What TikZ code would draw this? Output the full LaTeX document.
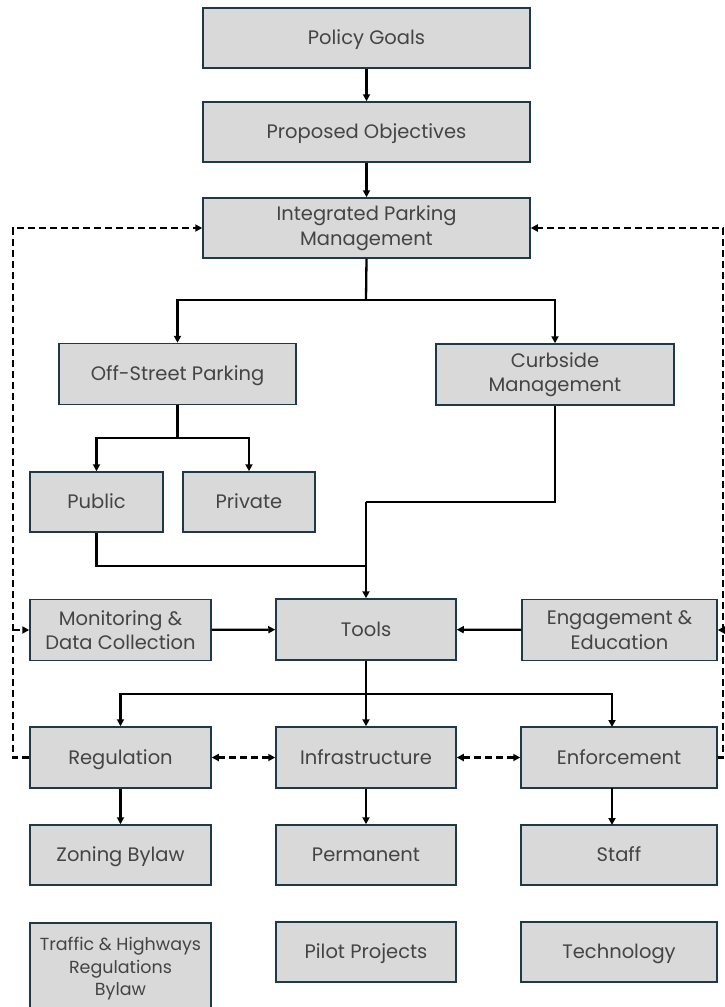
\documentclass[tikz,border=0pt]{standalone}
\usepackage{fontspec}
\setmainfont{Poppins}
\usetikzlibrary{arrows.meta}
\definecolor{boxfill}{HTML}{D9D9D9}
\definecolor{boxline}{HTML}{1E3A48}
\definecolor{txt}{HTML}{444444}
\tikzset{
  box/.style={draw=boxline, line width=1.5pt, fill=boxfill, text=txt, align=center,
    font=\fontsize{19.5}{24.5}\selectfont, inner sep=2pt, anchor=center},
  one/.style={text height=14.5pt, text depth=1pt},
  conn/.style={draw=black, line width=2.3pt, -{Triangle[length=7pt,width=7pt]}},
  plain/.style={draw=black, line width=2.3pt},
  dconn/.style={draw=black, line width=2.6pt, dash pattern=on 7pt off 4pt, -{Triangle[length=7pt,width=7pt]}},
  ddconn/.style={draw=black, line width=2.6pt, dash pattern=on 7pt off 4pt, {Triangle[length=7pt,width=7pt]}-{Triangle[length=7pt,width=7pt]}},
}
\begin{document}
\begin{tikzpicture}[x=1pt,y=-1pt]
\useasboundingbox (0,0) rectangle (724,1007);
\node[box, one, minimum width=327pt, minimum height=60pt] (goals) at (366.5,38) {Policy Goals};
\node[box, one, minimum width=327pt, minimum height=60pt] (obj) at (366.5,132) {Proposed Objectives};
\node[box, minimum width=327pt, minimum height=60pt] (ipm) at (366.5,228) {Integrated Parking\\Management};
\node[box, one, minimum width=237pt, minimum height=61pt] (off) at (177.5,374) {Off-Street Parking};
\node[box, minimum width=238pt, minimum height=61pt] (curb) at (555,374.5) {Curbside\\Management};
\node[box, one, minimum width=133pt, minimum height=60pt] (pub) at (96.5,502) {Public};
\node[box, one, minimum width=132pt, minimum height=60pt] (priv) at (249,502) {Private};
\node[box, minimum width=181pt, minimum height=61pt] (mon) at (120.5,630) {Monitoring \&\\Data Collection};
\node[box, one, minimum width=180pt, minimum height=61pt] (tools) at (366,629.5) {Tools};
\node[box, minimum width=195pt, minimum height=61pt] (eng) at (619.5,630) {Engagement \&\\Education};
\node[box, one, minimum width=181pt, minimum height=61pt] (reg) at (120.5,757.5) {Regulation};
\node[box, one, minimum width=180pt, minimum height=61pt] (inf) at (366,757.5) {Infrastructure};
\node[box, one, minimum width=196pt, minimum height=61pt] (enf) at (619,757.5) {Enforcement};
\node[box, one, minimum width=181pt, minimum height=60pt] (zon) at (120.5,855) {Zoning Bylaw};
\node[box, one, minimum width=180pt, minimum height=60pt] (perm) at (366,855) {Permanent};
\node[box, one, minimum width=196pt, minimum height=60pt] (staff) at (619,855) {Staff};
\node[box, minimum width=181pt, minimum height=92pt, font=\fontsize{17.5}{22.5}\selectfont] (traf) at (120.5,969) {Traffic \& Highways\\Regulations\\Bylaw};
\node[box, one, minimum width=180pt, minimum height=60pt] (pilot) at (366,952) {Pilot Projects};
\node[box, one, minimum width=196pt, minimum height=60pt] (tech) at (619,952) {Technology};
% coordinates
\coordinate (splitA) at (366,300);
\coordinate (splitB) at (177.5,438);
\coordinate (joinC) at (366,502);
\coordinate (joinE) at (366,566);
\coordinate (splitD) at (366,694);
\coordinate (enfin) at (612,727);
\coordinate (enfout) at (612,788);
\coordinate (staffin) at (612,825);
\coordinate (lx) at (13,757.5);
\coordinate (ltop) at (13,228);
\coordinate (lmid) at (13,630);
\coordinate (rx) at (723,757.5);
\coordinate (rtop) at (723,228);
\coordinate (rmid) at (723,630);
% solid connectors
\draw[conn] (goals) -- (obj);
\draw[conn] (obj) -- (ipm);
\draw[plain] (ipm.south) -- (splitA);
\draw[conn] (splitA) -| (off.north);
\draw[conn] (splitA) -| (curb.north);
\draw[plain] (off.south) -- (splitB);
\draw[conn] (splitB) -| (pub.north);
\draw[conn] (splitB) -| (priv.north);
\draw[plain] (curb.south) |- (joinC);
\draw[plain] (pub.south) |- (joinE);
\draw[conn] (joinC) -- (tools.north);
\draw[conn] (mon) -- (tools);
\draw[conn] (eng) -- (tools);
\draw[plain] (tools.south) -- (splitD);
\draw[conn] (splitD) -| (reg.north);
\draw[conn] (splitD) -| (enfin);
\draw[conn] (tools.south) -- (inf.north);
\draw[conn] (reg) -- (zon);
\draw[conn] (inf) -- (perm);
\draw[conn] (enfout) -- (staffin);
% dashed
\draw[ddconn] (reg) -- (inf);
\draw[ddconn] (inf) -- (enf);
\draw[dconn] (reg.west) -- (lx) -- (ltop) -- (ipm.west);
\draw[dconn] (lmid) -- (mon.west);
\draw[dconn] (enf.east) -- (rx) -- (rtop) -- (ipm.east);
\draw[dconn] (rmid) -- (eng.east);
\end{tikzpicture}
\end{document}
